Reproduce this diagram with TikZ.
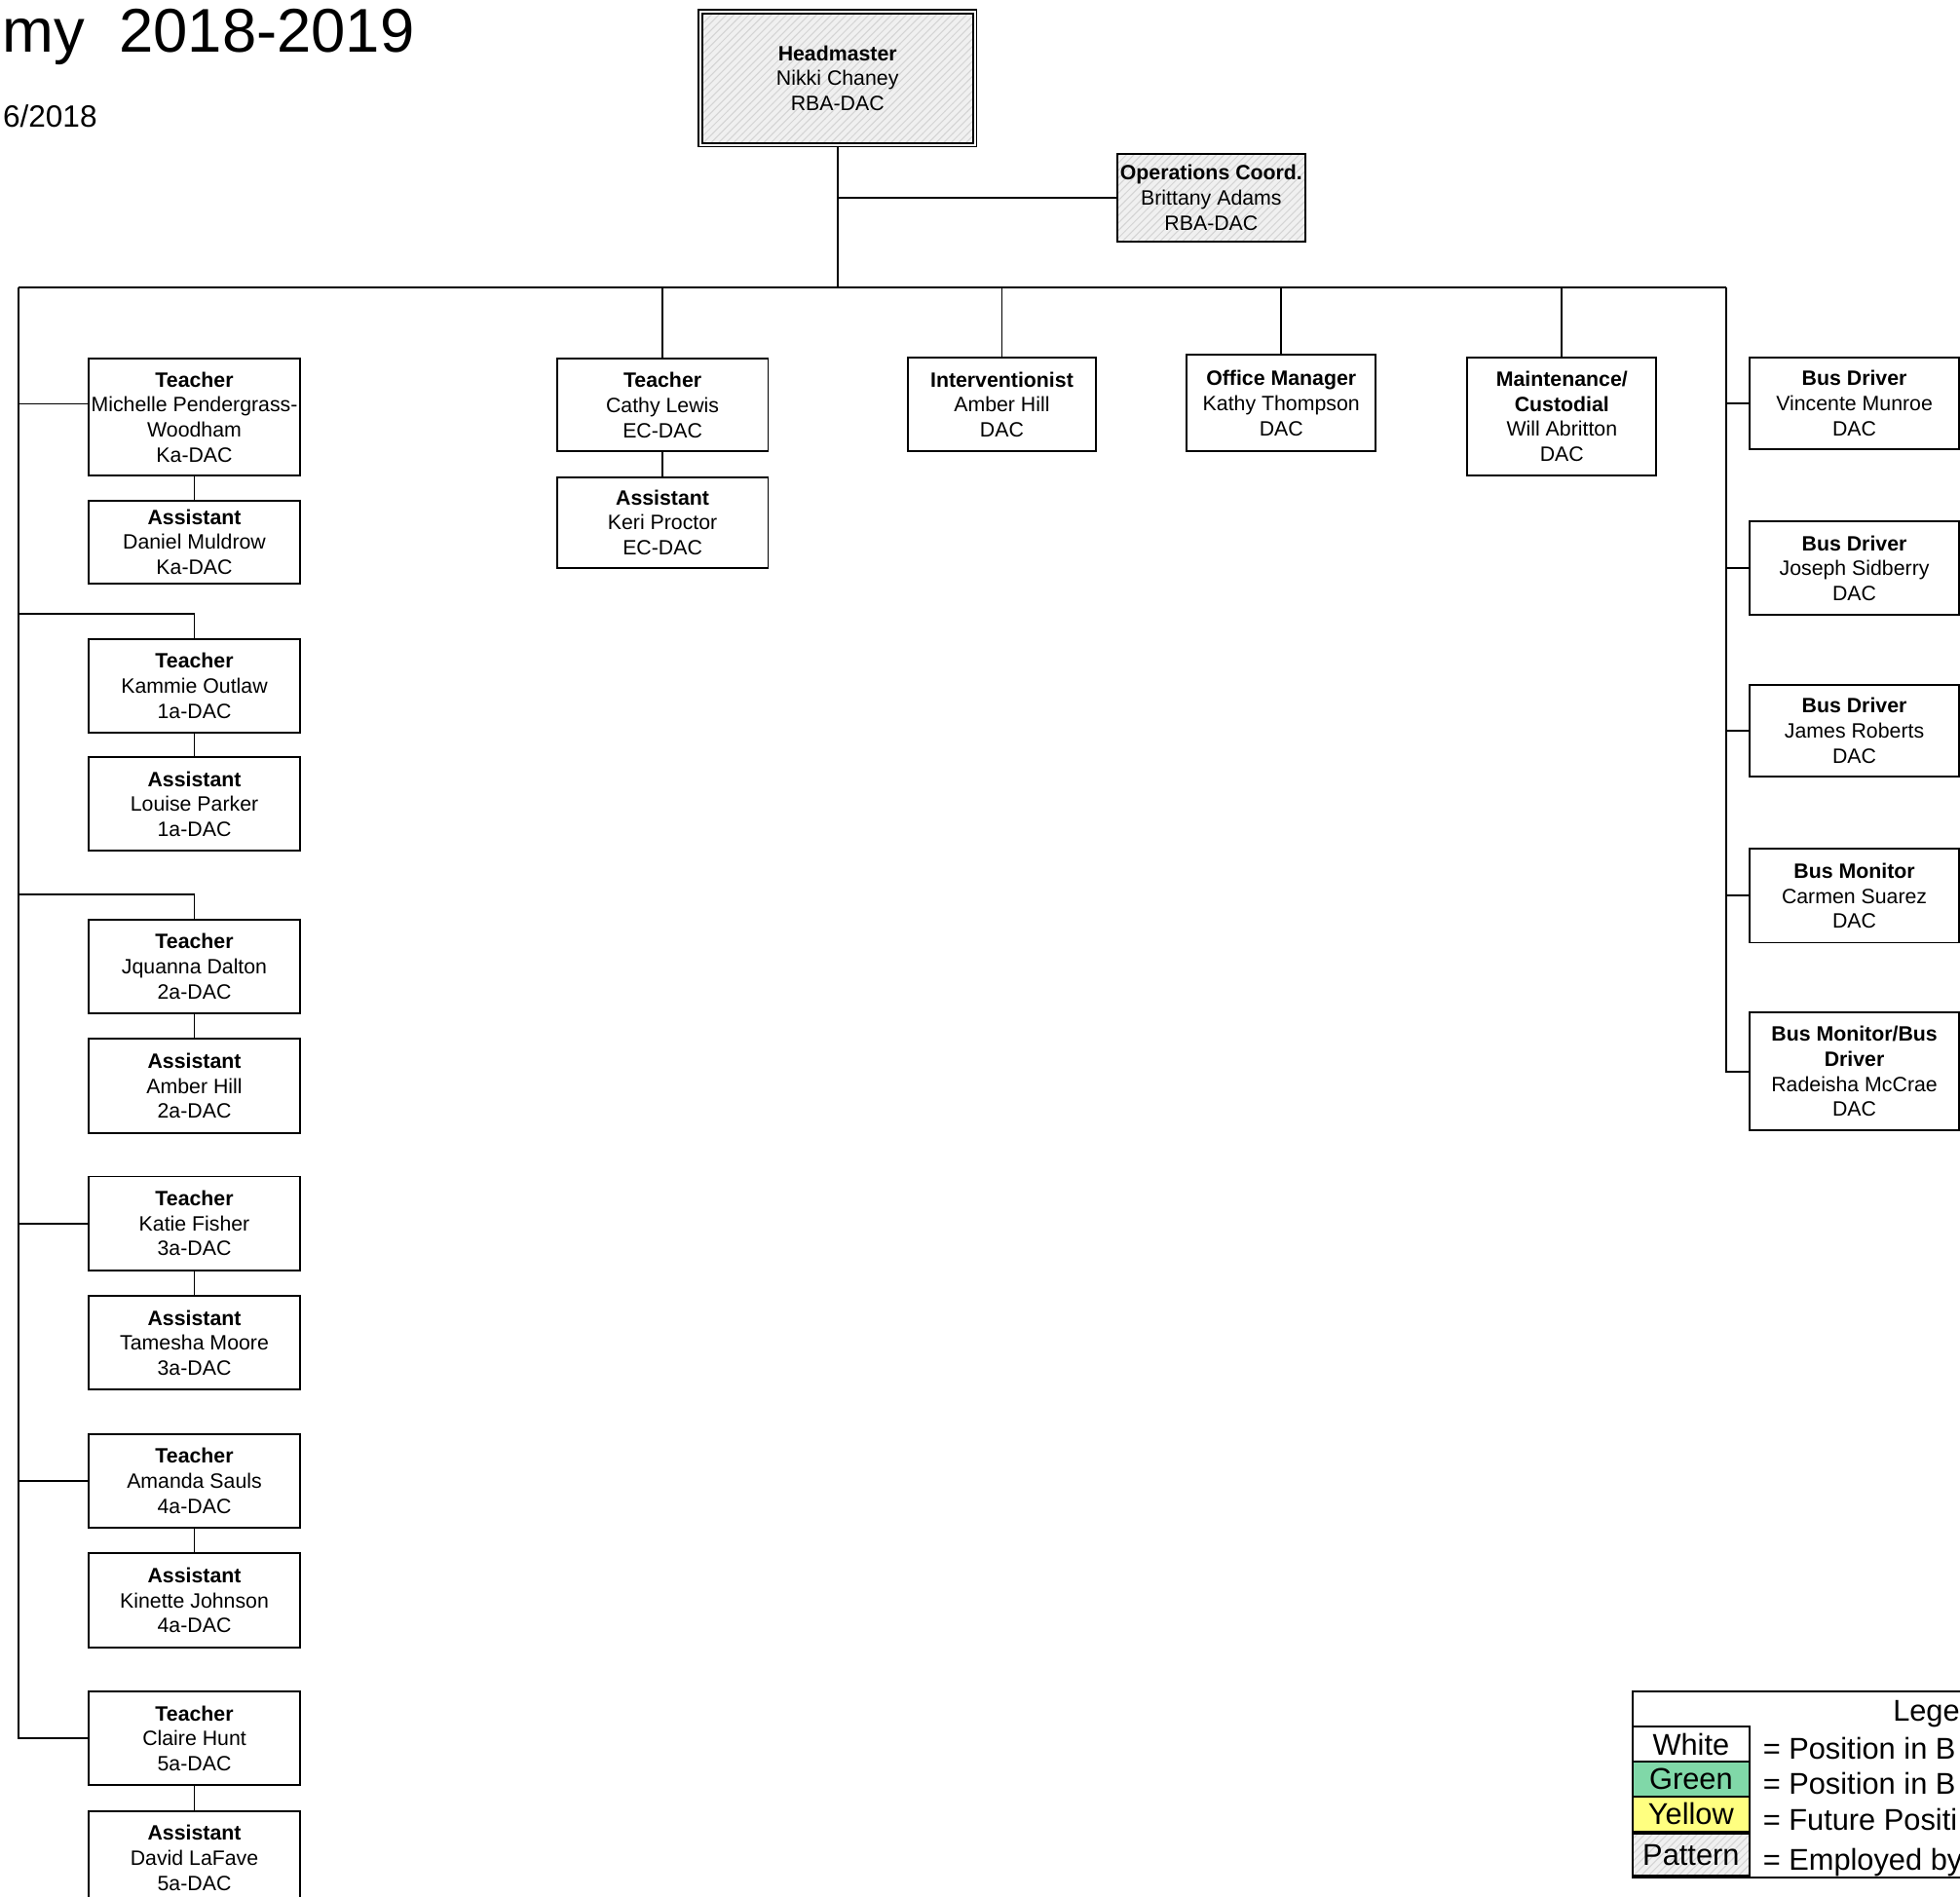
\documentclass[tikz,border=0pt]{standalone}
\usepackage{fontspec}
\setmainfont{Liberation Sans}
\usetikzlibrary{positioning, patterns}

\definecolor{hatchbg}{RGB}{240,240,240}
\definecolor{hatchln}{RGB}{212,212,212}
\definecolor{keygreen}{RGB}{128,216,168}
\definecolor{keyyellow}{RGB}{255,255,128}
\newcommand{\orgfont}{\fontsize{8.3}{10}\selectfont}
\newcommand{\keyfont}{\fontsize{12}{14}\selectfont}

\tikzset{
  box/.style={draw, line width=0.75pt, align=center, inner xsep=0.5pt,
    inner ysep=1pt, minimum width=84.5pt, minimum height=37.5pt, font=\orgfont},
  tall/.style={minimum height=47pt},
  narrow/.style={minimum width=75.5pt},
  hatched/.style={preaction={fill=hatchbg}, pattern=north east lines, pattern color=hatchln},
  link/.style={line width=0.75pt},
  swatch/.style={draw, line width=0.75pt, minimum width=46.8pt, minimum height=14pt,
    inner sep=0pt, font=\keyfont},
}

\begin{document}
\begin{tikzpicture}[x=0.5pt, y=-0.5pt]
  % Page frame
  \useasboundingbox (0,0) rectangle (1568,1517);

  % Title and date
  \node[anchor=base east, inner sep=0, font=\fontsize{24.7}{30}\selectfont] (title) at (332,41.5) {my\ \ 2018-2019};
  \node[anchor=base east, inner sep=0, font=\fontsize{12.3}{14}\selectfont] (date) at (78,101.8) {6/2018};

  % Headmaster and operations
  \node[box, hatched, double, double distance=0.7pt, minimum width=109.8pt, minimum height=53.3pt] (hm) at (670,62.5) {\textbf{Headmaster}\\Nikki Chaney\\RBA-DAC};
  \node[box, hatched, minimum width=75pt, minimum height=35pt] (oc) at (969,158) {\textbf{Operations Coord.}\\Brittany Adams\\RBA-DAC};

  % Classroom teachers and assistants
  \node[box, minimum height=46.5pt] (t1) at (155.5,333.5) {\textbf{Teacher}\\Michelle Pendergrass-\\Woodham\\Ka-DAC};
  \node[box, minimum height=33pt, below=9.5pt of t1] (a1) {\textbf{Assistant}\\Daniel Muldrow\\Ka-DAC};
  \node[box] (t2) at (155.5,548.5) {\textbf{Teacher}\\Kammie Outlaw\\1a-DAC};
  \node[box, below=9pt of t2] (a2) {\textbf{Assistant}\\Louise Parker\\1a-DAC};
  \node[box] (t3) at (155.5,773) {\textbf{Teacher}\\Jquanna Dalton\\2a-DAC};
  \node[box, below=9.5pt of t3] (a3) {\textbf{Assistant}\\Amber Hill\\2a-DAC};
  \node[box] (t4) at (155.5,978.5) {\textbf{Teacher}\\Katie Fisher\\3a-DAC};
  \node[box, below=9.5pt of t4] (a4) {\textbf{Assistant}\\Tamesha Moore\\3a-DAC};
  \node[box] (t5) at (155.5,1184.5) {\textbf{Teacher}\\Amanda Sauls\\4a-DAC};
  \node[box, below=9.5pt of t5] (a5) {\textbf{Assistant}\\Kinette Johnson\\4a-DAC};
  \node[box] (t6) at (155.5,1390.5) {\textbf{Teacher}\\Claire Hunt\\5a-DAC};
  \node[box, below=9.5pt of t6] (a6) {\textbf{Assistant}\\David LaFave\\5a-DAC};
  \node[box, minimum height=37pt] (t7) at (530,324) {\textbf{Teacher}\\Cathy Lewis\\EC-DAC};
  \node[box, minimum height=36.5pt, below=9.5pt of t7] (a7) {\textbf{Assistant}\\Keri Proctor\\EC-DAC};

  % Support staff
  \node[box, narrow] (iv) at (801.5,323.5) {\textbf{Interventionist}\\Amber Hill\\DAC};
  \node[box, narrow, minimum height=38.5pt] (om) at (1025,322.5) {\textbf{Office Manager}\\Kathy Thompson\\DAC};
  \node[box, narrow, tall] (mc) at (1249.5,333) {\textbf{Maintenance/}\\\textbf{Custodial}\\Will Abritton\\DAC};

  % Transportation
  \node[box, minimum width=84pt, minimum height=36.5pt] (b1) at (1483.5,322.5) {\textbf{Bus Driver}\\Vincente Munroe\\DAC};
  \node[box, minimum width=84pt] (b2) at (1483.5,454.5) {\textbf{Bus Driver}\\Joseph Sidberry\\DAC};
  \node[box, minimum width=84pt, minimum height=36.5pt] (b3) at (1483.5,584.5) {\textbf{Bus Driver}\\James Roberts\\DAC};
  \node[box, minimum width=84pt] (b4) at (1483.5,716.5) {\textbf{Bus Monitor}\\Carmen Suarez\\DAC};
  \node[box, minimum width=84pt, tall] (b5) at (1483.5,857) {\textbf{Bus Monitor/Bus}\\\textbf{Driver}\\Radeisha McCrae\\DAC};

  % Main trunk and bus
  \coordinate (busL) at (15,230);
  \coordinate (busR) at (1381,230);
  \draw[link] (busL) -- (busR);
  \draw[link] (hm.south) -- (hm.south |- busL);
  \draw[link] (hm.south |- oc.west) -- (oc.west);
  \foreach \n in {t7, iv, om, mc}
    \draw[link] (\n.north |- busL) -- (\n.north);

  % Left branch
  \draw[link] (busL) |- (t6.west);
  \coordinate (t1k) at ([yshift=5.25pt]t1.west);
  \coordinate (t2k) at ([yshift=9.5pt]t2.north);
  \coordinate (t3k) at ([yshift=9.5pt]t3.north);
  \draw[link] (t1k) -- (t1k -| busL);
  \draw[link] (t2.north) |- (t2k -| busL);
  \draw[link] (t3.north) |- (t3k -| busL);
  \draw[link] (t4.west) -- (t4.west -| busL);
  \draw[link] (t5.west) -- (t5.west -| busL);
  \foreach \i in {1,...,7}
    \draw[link] (t\i) -- (a\i);

  % Right branch
  \draw[link] (busR) |- (b5.west);
  \foreach \n in {b1, b2, b3, b4}
    \draw[link] (\n.west) -- (\n.west -| busR);

  % Legend
  \draw[link] (1306,1352.6) rectangle (1640,1502);
  \node[anchor=base west, inner sep=0, font=\keyfont] (keytitle) at (1514,1377) {Lege};
  \node[swatch] (kwhite) at (1352.8,1395) {White};
  \node[swatch, fill=keygreen] (kgreen) at (1352.8,1423) {Green};
  \node[swatch, fill=keyyellow] (kyellow) at (1352.8,1451) {Yellow};
  \node[swatch, hatched, minimum height=16.5pt] (kpattern) at (1352.8,1483.5) {Pattern};
  \node[anchor=base west, inner sep=0, font=\keyfont] (kwtext) at (1410,1406.7) {= Position in B};
  \node[anchor=base west, inner sep=0, font=\keyfont] (kgtext) at (1410,1435.3) {= Position in B};
  \node[anchor=base west, inner sep=0, font=\keyfont] (kytext) at (1410,1463.8) {= Future Positi};
  \node[anchor=base west, inner sep=0, font=\keyfont] (kptext) at (1410,1495.7) {= Employed by};
\end{tikzpicture}
\end{document}
